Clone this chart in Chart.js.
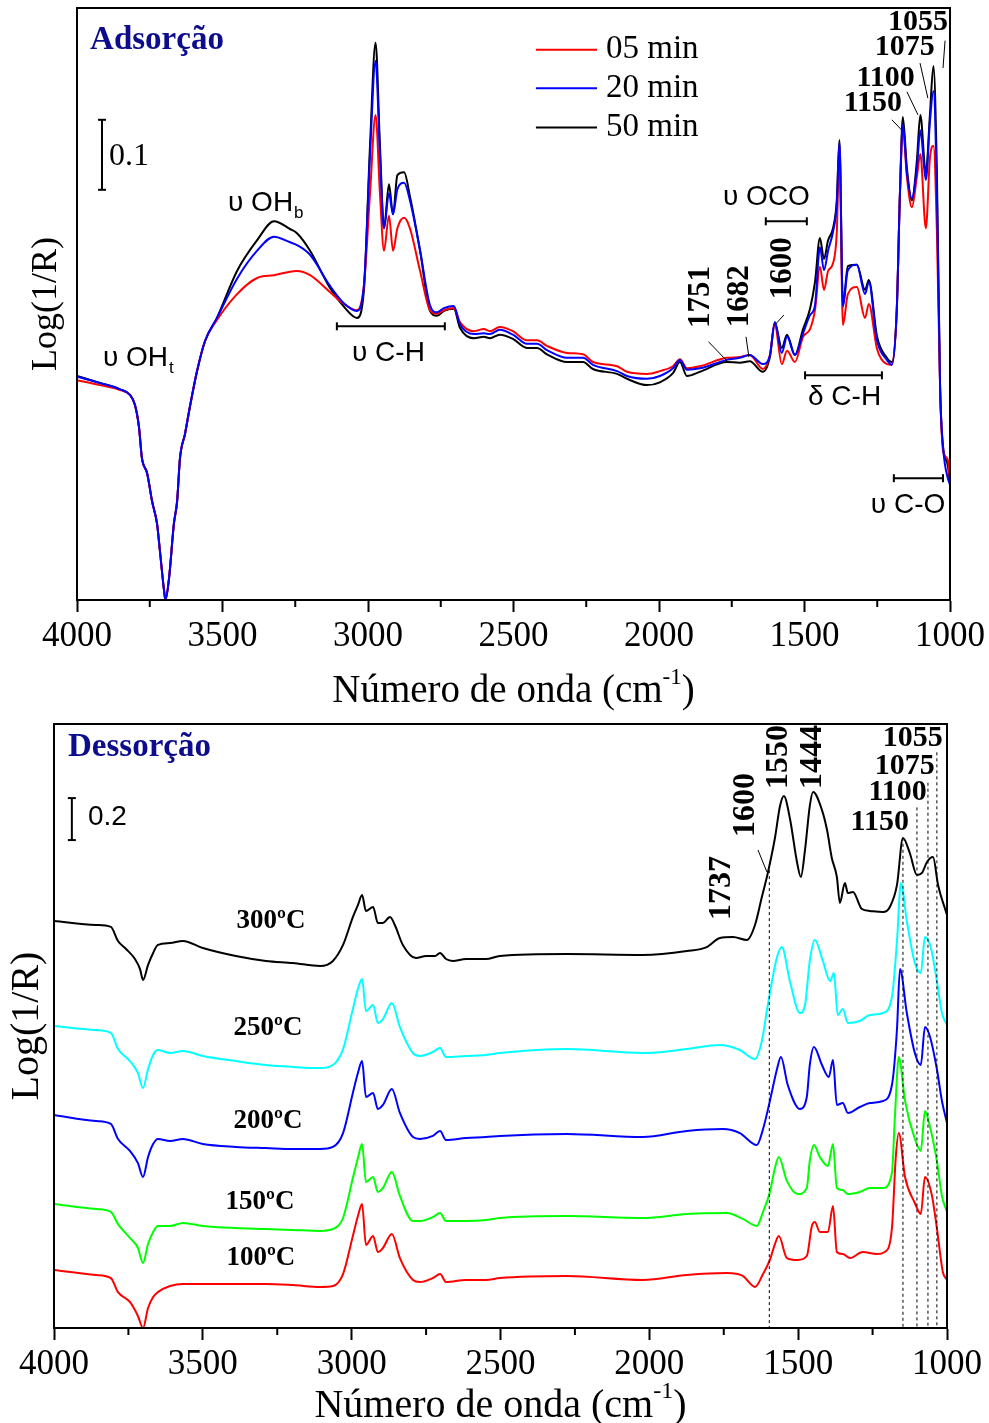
<!DOCTYPE html>
<html>
<head>
<meta charset="utf-8">
<script src="https://cdn.jsdelivr.net/npm/chart.js@4.4.0/dist/chart.umd.min.js"></script>
<style>
  body { margin: 0; background: #fff; }
  #wrap { position: relative; width: 989px; height: 1423px; }
  canvas { position: absolute; left: 0; }
</style>
</head>
<body>
<div id="wrap">
  <canvas id="adsChart" width="989" height="711" style="top:0"></canvas>
  <canvas id="desChart" width="989" height="712" style="top:711px"></canvas>
</div>
<script>
// ---- Adsorção (top panel), Log(1/R) ----
const wnAds = [4000,3921,3852,3818,3801,3787,3777,3759,3742,3725,3715,3701,3696,3684,3667,3656,3646,3629,3612,3588,3560,3519,
  3450,3381,3323,3268,3244,3199,3131,3083,3038,3014,2993,2974,2959,2945,2928,2914,2899,2876,2856,2821,2787,2763,2739,2705,2684,
  2636,2602,2581,2547,2502,2454,2419,2385,2316,2261,2227,2144,2110,2041,1997,1952,1928,1904,1859,1767,1722,1688,1643,1619,1602,
  1578,1560,1533,1505,1481,1464,1447,1433,1419,1402,1389,1380,1368,1351,1320,1292,1279,1251,1217,1200,1183,1172,1162,1148,1131,
  1114,1102,1083,1069,1057,1045,1034,1024,1007,1000];
const ads05 = [.314,.307,.300,.293,.279,.247,.203,.181,.141,.109,.070,.014,.000,.030,.109,.141,.203,.237,.276,.326,.370,.400,
  .437,.460,.464,.469,.470,.464,.440,.423,.414,.449,.581,.693,.581,.499,.549,.499,.531,.546,.531,.470,.414,.409,.414,.417,.397,
  .384,.387,.384,.390,.384,.371,.371,.363,.353,.351,.340,.334,.326,.323,.327,.334,.344,.331,.334,.346,.347,.350,.330,.350,.393,
  .337,.356,.340,.376,.387,.414,.476,.443,.470,.481,.526,.649,.393,.437,.447,.403,.423,.359,.337,.336,.414,.581,.676,.604,.561,
  .604,.637,.531,.631,.649,.526,.303,.214,.200,.170];
const ads20 = [.319,.310,.301,.293,.279,.247,.203,.181,.141,.109,.070,.014,.000,.030,.109,.141,.203,.237,.276,.326,.370,.403,
  .459,.499,.519,.511,.507,.493,.449,.424,.413,.449,.637,.770,.637,.531,.581,.551,.587,.596,.571,.499,.421,.411,.417,.420,.394,
  .380,.381,.380,.386,.379,.366,.366,.357,.346,.346,.336,.327,.320,.316,.320,.331,.343,.329,.331,.343,.346,.350,.337,.349,.397,
  .353,.376,.350,.381,.407,.421,.504,.471,.499,.526,.566,.654,.419,.471,.479,.437,.454,.371,.343,.336,.414,.581,.679,.610,.574,
  .616,.671,.600,.683,.727,.581,.303,.219,.173,.166];
const ads50 = [.320,.310,.301,.293,.279,.247,.203,.181,.141,.109,.070,.014,.000,.030,.109,.141,.203,.237,.276,.326,.370,.403,
  .470,.514,.541,.530,.524,.499,.446,.419,.403,.443,.650,.796,.650,.531,.594,.551,.607,.611,.577,.499,.413,.406,.413,.416,.389,
  .374,.376,.374,.379,.373,.360,.360,.351,.340,.340,.330,.323,.316,.307,.311,.324,.340,.320,.326,.340,.339,.341,.326,.347,.396,
  .360,.379,.350,.387,.416,.454,.517,.487,.514,.531,.571,.657,.421,.477,.479,.443,.457,.377,.346,.340,.414,.581,.690,.616,.571,
  .627,.693,.610,.693,.763,.610,.303,.219,.191,.163];
const adsLabels = ['05 min', '20 min', '50 min'];

// ---- Dessorção (bottom panel), curves offset as in the figure ----
const wn300 = [4000,3859,3809,3785,3758,3728,3711,3701,3684,3667,3651,3610,3567,3500,3389,3288,3197,3106,3063,3029,2996,2979,
  2965,2952,2928,2912,2895,2871,2855,2828,2784,2750,2720,2703,2683,2660,2616,2549,2502,2277,2022,1874,1807,1763,1719,1672,1645,
  1622,1602,1578,1561,1548,1528,1504,1491,1477,1461,1450,1420,1403,1387,1370,1360,1343,1333,1316,1286,1259,1215,1192,1168,1148,
  1125,1101,1084,1067,1047,1030,1000];
const des300 = [2.142,2.121,2.111,2.037,1.995,1.942,1.889,1.832,1.911,1.974,2.016,2.026,2.037,2.000,1.958,1.932,1.921,1.905,
  1.932,2.016,2.163,2.226,2.279,2.195,2.216,2.132,2.132,2.163,2.121,2.016,1.947,1.958,1.958,1.974,1.942,1.932,1.942,1.942,1.958,
  1.968,1.963,1.984,2.005,2.053,2.058,2.042,2.121,2.268,2.395,2.579,2.747,2.800,2.684,2.453,2.374,2.516,2.747,2.821,2.726,2.621,
  2.474,2.374,2.237,2.342,2.289,2.295,2.205,2.195,2.189,2.216,2.332,2.579,2.500,2.384,2.395,2.453,2.479,2.332,2.174];
const wn250 = [4000,3859,3809,3785,3745,3718,3701,3684,3667,3651,3610,3567,3500,3389,3288,3197,3106,3063,3029,2996,2979,2965,
  2952,2928,2912,2895,2865,2838,2794,2771,2727,2703,2683,2616,2549,2502,2277,2022,1874,1763,1696,1645,1622,1602,1571,1555,1528,
  1494,1477,1461,1444,1417,1393,1380,1367,1350,1333,1293,1259,1215,1185,1168,1155,1135,1108,1088,1074,1054,1034,1017,1000];
const des250 = [1.589,1.568,1.553,1.468,1.405,1.342,1.263,1.363,1.437,1.463,1.447,1.458,1.432,1.405,1.384,1.374,1.368,1.384,
  1.468,1.679,1.784,1.837,1.668,1.700,1.605,1.626,1.711,1.584,1.447,1.432,1.453,1.474,1.426,1.432,1.437,1.447,1.468,1.447,1.468,
  1.489,1.463,1.416,1.511,1.700,1.953,2.005,1.826,1.658,1.700,1.932,2.042,1.932,1.826,1.868,1.647,1.679,1.605,1.616,1.647,1.658,
  1.742,2.037,2.342,2.142,1.921,1.868,2.058,2.000,1.826,1.658,1.595];
const wn200 = [4000,3859,3809,3785,3745,3718,3701,3684,3667,3651,3610,3567,3500,3389,3288,3197,3106,3063,3029,2996,2979,2965,
  2952,2928,2912,2895,2865,2838,2794,2771,2727,2703,2683,2616,2549,2502,2277,2022,1874,1753,1696,1639,1618,1595,1571,1558,1535,
  1494,1471,1461,1447,1420,1397,1383,1370,1350,1333,1293,1259,1215,1185,1168,1158,1135,1108,1088,1074,1057,1034,1017,1000];
const des200 = [1.121,1.089,1.074,0.995,0.932,0.868,0.795,0.900,0.968,0.995,0.984,0.995,0.968,0.953,0.947,0.942,0.942,0.953,
  1.026,1.237,1.342,1.405,1.216,1.237,1.153,1.174,1.258,1.132,1.005,0.995,1.011,1.037,0.989,1.000,1.005,1.011,1.021,1.005,1.037,
  1.047,1.026,0.963,1.047,1.195,1.363,1.426,1.279,1.153,1.216,1.384,1.479,1.384,1.321,1.411,1.174,1.184,1.132,1.163,1.184,1.195,
  1.279,1.574,1.889,1.658,1.447,1.384,1.584,1.532,1.363,1.195,1.079];
const wn150 = [4000,3859,3809,3785,3745,3718,3701,3684,3667,3651,3610,3567,3500,3389,3288,3197,3106,3063,3029,2996,2979,2965,
  2952,2928,2912,2895,2865,2838,2794,2771,2727,2703,2683,2616,2549,2502,2277,2022,1874,1739,1686,1639,1618,1595,1578,1565,1538,
  1501,1471,1461,1447,1427,1400,1383,1370,1350,1333,1293,1259,1215,1185,1175,1162,1141,1108,1088,1074,1057,1034,1017,1000];
const des150 = [0.653,0.626,0.611,0.547,0.474,0.421,0.342,0.442,0.505,0.537,0.537,0.553,0.537,0.526,0.521,0.516,0.511,0.521,
  0.579,0.789,0.895,0.968,0.768,0.795,0.716,0.737,0.821,0.695,0.563,0.563,0.584,0.605,0.563,0.563,0.568,0.579,0.589,0.579,0.600,
  0.605,0.574,0.537,0.611,0.716,0.842,0.900,0.774,0.705,0.737,0.879,0.963,0.900,0.853,0.968,0.737,0.726,0.705,0.716,0.737,0.737,
  0.816,1.111,1.426,1.195,0.995,0.932,1.142,1.058,0.879,0.695,0.611];
const wn100 = [4000,3859,3809,3785,3745,3718,3701,3684,3667,3651,3610,3567,3500,3389,3288,3197,3106,3063,3029,2996,2979,2965,
  2952,2928,2912,2895,2865,2838,2794,2771,2727,2703,2683,2616,2549,2502,2277,2022,1874,1739,1686,1645,1618,1595,1578,1565,1538,
  1501,1471,1454,1444,1427,1400,1383,1370,1350,1326,1283,1236,1209,1185,1172,1162,1141,1108,1088,1074,1051,1034,1014,1000];
const des100 = [0.305,0.279,0.263,0.189,0.137,0.063,0.000,0.105,0.163,0.189,0.221,0.232,0.232,0.232,0.232,0.226,0.216,0.221,
  0.284,0.484,0.589,0.653,0.437,0.484,0.400,0.421,0.495,0.368,0.253,0.242,0.263,0.284,0.242,0.253,0.253,0.263,0.274,0.253,0.279,
  0.289,0.274,0.216,0.284,0.358,0.442,0.484,0.368,0.358,0.379,0.537,0.558,0.505,0.505,0.642,0.400,0.389,0.368,0.400,0.389,0.400,
  0.526,0.900,1.026,0.795,0.658,0.600,0.795,0.700,0.526,0.295,0.253];
const desLabels = ['300ºC', '250ºC', '200ºC', '150ºC', '100ºC'];

const SERIF = '"Liberation Serif", "Times New Roman", serif';
const SANS = '"Liberation Sans", Arial, sans-serif';
const NAVY = '#0c0c8c';

function pts(xs, ys) {
  const n = Math.min(xs.length, ys.length);
  const out = [];
  for (let i = 0; i < n; i++) out.push({ x: xs[i], y: ys[i] });
  return out;
}

function line(color, data, order) {
  return {
    data, order,
    borderColor: color, borderWidth: 2,
    pointRadius: 0, fill: false,
    cubicInterpolationMode: 'monotone'
  };
}

function text(ctx, s, x, y, font, align, color) {
  ctx.font = font;
  ctx.fillStyle = color || '#000';
  ctx.textAlign = align || 'left';
  ctx.textBaseline = 'middle';
  ctx.fillText(s, x, y);
}

function rotText(ctx, s, x, y, font) {
  ctx.save();
  ctx.translate(x, y);
  ctx.rotate(-Math.PI / 2);
  text(ctx, s, 0, 0, font, 'center');
  ctx.restore();
}

// "υ OH" with a subscript
function subText(ctx, s, sub, x, y, size) {
  text(ctx, s, x, y, size + 'px ' + SANS);
  const w = ctx.measureText(s).width;
  text(ctx, sub, x + w + 1, y + size * 0.36, Math.round(size * 0.62) + 'px ' + SANS);
}

function seg(ctx, x1, y1, x2, y2, w) {
  ctx.lineWidth = w || 1;
  ctx.strokeStyle = '#000';
  ctx.beginPath();
  ctx.moveTo(x1, y1);
  ctx.lineTo(x2, y2);
  ctx.stroke();
}

function bracket(ctx, x1, x2, y) {
  seg(ctx, x1, y, x2, y, 2);
  seg(ctx, x1, y - 4, x1, y + 4, 2);
  seg(ctx, x2, y - 4, x2, y + 4, 2);
}

function scaleBar(ctx, x, y1, y2) {
  seg(ctx, x, y1, x, y2, 2);
  seg(ctx, x - 4, y1, x + 4, y1, 2);
  seg(ctx, x - 4, y2, x + 4, y2, 2);
}

function frameAndTicks(chart, minorLen) {
  const { ctx, chartArea: a, scales: { x } } = chart;
  ctx.lineWidth = 2;
  ctx.strokeStyle = '#000';
  ctx.strokeRect(a.left, a.top, a.right - a.left, a.bottom - a.top);
  for (let w = 3750; w > 1000; w -= 500) {
    const px = x.getPixelForValue(w);
    seg(ctx, px, a.bottom, px, a.bottom + minorLen, 2);
  }
}

function axisTitles(chart, size, dy, ySize, dx) {
  const { ctx, chartArea: a } = chart;
  const main = 'Número de onda (cm', sup = '-1', end = ')';
  ctx.font = size + 'px ' + SERIF;
  const w1 = ctx.measureText(main).width, w3 = ctx.measureText(end).width;
  const supFont = Math.round(size * 0.6) + 'px ' + SERIF;
  ctx.font = supFont;
  const w2 = ctx.measureText(sup).width;
  let x0 = (a.left + a.right) / 2 - (w1 + w2 + w3) / 2;
  const y0 = a.bottom + dy;
  text(ctx, main, x0, y0, size + 'px ' + SERIF);
  text(ctx, sup, x0 + w1, y0 - size * 0.36, supFont);
  text(ctx, end, x0 + w1 + w2, y0, size + 'px ' + SERIF);
  ctx.save();
  ctx.translate(a.left - dx, (a.top + a.bottom) / 2);
  ctx.rotate(-Math.PI / 2);
  text(ctx, 'Log(1/R)', 0, 0, ySize + 'px ' + SERIF, 'center');
  ctx.restore();
}

const adsNotes = {
  id: 'adsNotes',
  afterDraw(chart) {
    const { ctx, scales: { x, y } } = chart;
    const X = w => x.getPixelForValue(w), Y = v => y.getPixelForValue(v);
    ctx.save();
    frameAndTicks(chart, 7);
    axisTitles(chart, 39, 92, 36, 30);

    text(ctx, 'Adsorção', X(3955), Y(0.799), 'bold 33px ' + SERIF, 'left', NAVY);
    scaleBar(ctx, X(3914), Y(0.686), Y(0.586));
    text(ctx, '0.1', X(3890), Y(0.634), '32px ' + SERIF);

    // legend
    const legColors = ['#ff0000', '#0000ff', '#000000'];
    const legV = [0.786, 0.731, 0.675];
    adsLabels.forEach((lab, i) => {
      ctx.strokeStyle = legColors[i];
      ctx.lineWidth = 2;
      ctx.beginPath();
      ctx.moveTo(X(2423), Y(legV[i]));
      ctx.lineTo(X(2213), Y(legV[i]));
      ctx.stroke();
      text(ctx, lab, X(2182), Y(legV[i]), '33px ' + SERIF);
    });

    subText(ctx, 'υ OH', 'b', X(3481), Y(0.567), 28);
    subText(ctx, 'υ OH', 't', X(3911), Y(0.346), 28);
    bracket(ctx, X(3107), X(2736), Y(0.391));
    text(ctx, 'υ C-H', X(3055), Y(0.353), '28px ' + SANS);
    text(ctx, 'υ OCO', X(1780), Y(0.576), '28px ' + SANS);
    bracket(ctx, X(1633), X(1492), Y(0.541));
    bracket(ctx, X(1498), X(1234), Y(0.321));
    text(ctx, 'δ C-H', X(1488), Y(0.290), '28px ' + SANS);
    bracket(ctx, X(1193), X(1024), Y(0.174));
    text(ctx, 'υ C-O', X(1272), Y(0.136), '28px ' + SANS);

    const bf = 'bold 31px ' + SERIF;
    rotText(ctx, '1751', X(1856), Y(0.433), bf);
    rotText(ctx, '1682', X(1722), Y(0.434), bf);
    rotText(ctx, '1600', X(1574), Y(0.474), bf);
    seg(ctx, X(1830), Y(0.369), X(1763), Y(0.340));
    seg(ctx, X(1701), Y(0.376), X(1691), Y(0.347));
    seg(ctx, X(1571), Y(0.407), X(1602), Y(0.393));

    const hf = 'bold 30px ' + SERIF;
    text(ctx, '1150', X(1165), Y(0.709), hf, 'right');
    text(ctx, '1100', X(1121), Y(0.746), hf, 'right');
    text(ctx, '1075', X(1052), Y(0.789), hf, 'right');
    text(ctx, '1055', X(1007), Y(0.826), hf, 'right');
    seg(ctx, X(1200), Y(0.686), X(1165), Y(0.671));
    seg(ctx, X(1148), Y(0.726), X(1110), Y(0.693));
    seg(ctx, X(1103), Y(0.767), X(1076), Y(0.717));
    seg(ctx, X(1017), Y(0.799), X(1024), Y(0.760));
    ctx.restore();
  }
};

const desNotes = {
  id: 'desNotes',
  afterDraw(chart) {
    const { ctx, scales: { x, y } } = chart;
    const X = w => x.getPixelForValue(w), Y = v => y.getPixelForValue(v);
    ctx.save();
    frameAndTicks(chart, 7);
    axisTitles(chart, 40, 78, 40, 27);

    text(ctx, 'Dessorção', X(3953), Y(3.058), 'bold 33px ' + SERIF, 'left', NAVY);
    scaleBar(ctx, X(3940), Y(2.789), Y(2.568));
    text(ctx, '0.2', X(3886), Y(2.689), '28px ' + SANS);

    const tf = 'bold 27px ' + SERIF;
    const tPos = [[3271, 2.142], [3281, 1.579], [3281, 1.089], [3308, 0.663], [3305, 0.368]];
    desLabels.forEach((lab, i) => text(ctx, lab, X(tPos[i][0]), Y(tPos[i][1]), tf, 'center'));

    const bf = 'bold 32px ' + SERIF;
    rotText(ctx, '1737', X(1756), Y(2.316), bf);
    rotText(ctx, '1600', X(1676), Y(2.753), bf);
    rotText(ctx, '1550', X(1565), Y(3.005), bf);
    rotText(ctx, '1444', X(1450), Y(3.005), bf);
    seg(ctx, X(1635), Y(2.516), X(1605), Y(2.400));

    const hf = 'bold 30px ' + SERIF;
    text(ctx, '1055', X(1014), Y(3.105), hf, 'right');
    text(ctx, '1075', X(1041), Y(2.958), hf, 'right');
    text(ctx, '1100', X(1068), Y(2.821), hf, 'right');
    text(ctx, '1150', X(1128), Y(2.663), hf, 'right');

    ctx.setLineDash([3, 3]);
    [[1597, 2.41], [1148, 2.58], [1101, 2.74], [1064, 2.87], [1034, 3.03]].forEach(([w, v]) => {
      seg(ctx, X(w), Y(v), X(w), Y(0), 1);
    });
    ctx.setLineDash([]);
    ctx.restore();
  }
};

function xAxis(size, h) {
  return {
    type: 'linear', position: 'bottom', reverse: true,
    min: 1000, max: 4000,
    afterFit(s) { s.height = h; },
    ticks: {
      stepSize: 500, color: '#000', padding: 4,
      font: { family: SERIF, size },
      callback: v => String(v)
    },
    grid: { display: true, drawOnChartArea: false, drawTicks: true, tickLength: 12, tickWidth: 2, tickColor: '#000' },
    border: { display: true, color: '#000', width: 2 }
  };
}

function yAxis(max, w) {
  return {
    type: 'linear', min: 0, max,
    afterFit(s) { s.width = w; },
    ticks: { display: false },
    grid: { display: false },
    border: { display: true, color: '#000', width: 2 }
  };
}

const common = {
  responsive: false, animation: false, events: [],
  plugins: { legend: { display: false }, tooltip: { enabled: false } }
};

new Chart(document.getElementById('adsChart'), {
  type: 'line',
  data: {
    datasets: [
      line('#0000ff', pts(wnAds, ads20), 0),
      line('#ff0000', pts(wnAds, ads05), 1),
      line('#000000', pts(wnAds, ads50), 2)
    ]
  },
  options: {
    ...common,
    layout: { padding: { left: 0, top: 8, right: 39, bottom: 0 } },
    scales: { x: xAxis(35, 111), y: yAxis(592 / 700, 77) }
  },
  plugins: [adsNotes]
});

new Chart(document.getElementById('desChart'), {
  type: 'line',
  data: {
    datasets: [
      line('#000000', pts(wn300, des300), 0),
      line('#00ffff', pts(wn250, des250), 1),
      line('#0000ff', pts(wn200, des200), 2),
      line('#00ff00', pts(wn150, des150), 3),
      line('#ff0000', pts(wn100, des100), 4)
    ]
  },
  options: {
    ...common,
    layout: { padding: { left: 0, top: 13, right: 42, bottom: 0 } },
    scales: { x: xAxis(35, 95), y: yAxis(604 / 190, 54) }
  },
  plugins: [desNotes]
});
</script>
</body>
</html>
